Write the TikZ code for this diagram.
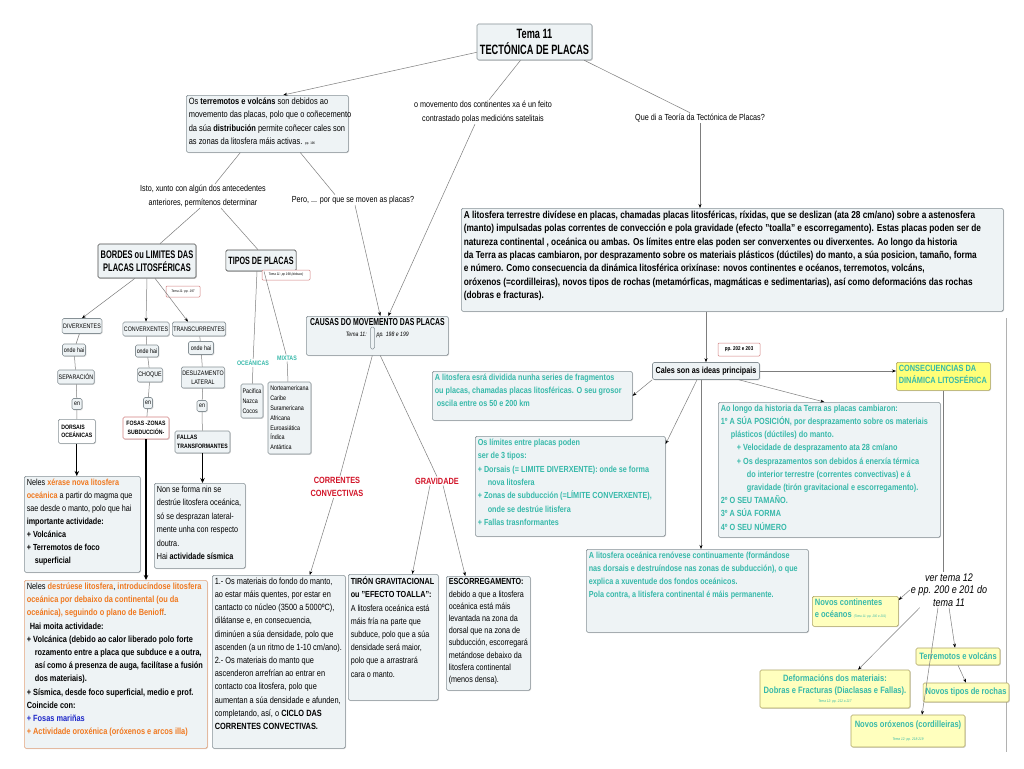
\documentclass[tikz,border=0pt]{standalone}
\usepackage{fontspec}
\setmainfont{Liberation Sans}[FakeStretch=0.82]
\newfontfamily\cnd{Liberation Sans}[FakeStretch=0.68]
\usetikzlibrary{arrows.meta,calc,shadows}
\definecolor{bxf}{RGB}{238,243,245}
\definecolor{bxd}{RGB}{135,145,150}
\definecolor{lg}{RGB}{125,125,125}
\definecolor{cy}{RGB}{55,185,170}
\definecolor{orn}{RGB}{240,120,30}
\definecolor{rd}{RGB}{210,20,40}
\definecolor{bl}{RGB}{30,40,200}
\definecolor{ybf}{RGB}{255,255,190}
\definecolor{ybf2}{RGB}{255,255,120}
\definecolor{ybd}{RGB}{175,165,100}
\definecolor{pk}{RGB}{210,130,130}
\definecolor{obd}{RGB}{230,165,125}
\newcommand{\fz}[2]{\fontsize{#1}{#2}\selectfont}
\newcommand{\nw}{\rightskip=0pt plus 1fil minus 300pt\relax}
\newcommand{\pb}[3]{\parbox[t][#2][t]{#1}{\nw #3}}
\tikzset{
  shd/.style={drop shadow={shadow xshift=0.8pt, shadow yshift=-0.8pt, opacity=0.3}},
  bx/.style={draw=bxd, fill=bxf, rounded corners=1.5pt, line width=0.6pt, inner sep=2.5pt, align=left, shd},
  pbx/.style={draw=bxd, fill=bxf, rounded corners=1.5pt, line width=0.6pt, inner sep=2.5pt, anchor=north west, shd},
  sb/.style={bx, inner sep=1pt, align=center, font=\fz{6.5}{8}},
  sbb/.style={bx, inner sep=1.5pt, font=\fz{6.3}{8.5}\bfseries},
  yb/.style={draw=ybd, fill=ybf, rounded corners=1.5pt, line width=0.6pt, inner sep=2.5pt, text=cy, font=\fz{9.2}{12}\bfseries, shd},
  rl/.style={draw=pk, fill=white, rounded corners=1pt, line width=0.5pt, inner sep=0.5pt, font=\fz{3.6}{4}\itshape},
  tx/.style={align=center, inner sep=1pt, font=\fz{8.8}{13.5}},
  ln/.style={draw=lg, line width=0.5pt},
  arr/.style={ln, -{Stealth[length=4pt,width=3pt,color=black]}},
  tk/.style={draw=black, line width=1.3pt, -{Stealth[length=5pt,width=4.5pt]}},
}
\begin{document}
\begin{tikzpicture}[x=1pt,y=-1pt]
\fill[white] (0,0) rectangle (1024,768);
\useasboundingbox (0,0) rectangle (1024,768);
\draw[lg!60, line width=0.5pt] (1006,318) -- (1006,752);

% ---------- top ----------
\node[bx, minimum width=115pt, minimum height=36pt, align=center, font=\cnd\fz{13.5}{16}\bfseries] (title) at (534.5,42) {Tema 11\\TECTÓNICA DE PLACAS};
\node[pbx, font=\fz{9.1}{13.5}] (boxA) at (186,95) {\pb{157pt}{52pt}{Os \textbf{terremotos e volcáns} son debidos ao\\movemento das placas, polo que o coñecemento\\da súa \textbf{distribución}  permite coñecer cales son\\as zonas da litosfera máis activas. {\fz{3.5}{4}pp. 196}}};
\node[tx] (moveTxt) at (483,112) {o movemento dos continentes xa é un feito\\contrastado polas medicións satelitais};
\node[tx] (queTxt) at (700,118) {Que di a Teoría da Tectónica de Placas?};
\node[tx] (istoTxt) at (203,196) {Isto, xunto con algún dos antecedentes\\anteriores, permítenos determinar};
\node[tx] (peroTxt) at (353,200) {Pero, ... por que se moven as placas?};

% ---------- left ----------
\node[bx, draw=black!70, minimum width=98pt, minimum height=34pt, align=center, font=\cnd\fz{11}{13}\bfseries] (bordes) at (147,261) {BORDES ou LIMITES DAS\\PLACAS LITOSFÉRICAS};
\node[bx, draw=black!70, minimum width=70pt, minimum height=21pt, align=center, font=\cnd\fz{10.6}{13}\bfseries] (tipos) at (261,260.5) {TIPOS DE PLACAS};
\node[rl, minimum width=48pt, minimum height=10pt] (r198) at (286,275) {Tema 11: pp 198 (debuxo)};
\node[rl, minimum width=34pt, minimum height=11pt] (r197) at (183,291.5) {Tema 11: pp. 197};

\node[sb, minimum width=39pt, minimum height=15pt] (diverx) at (82,326) {DIVERXENTES};
\node[sb, minimum width=23pt, minimum height=12pt] (ondehai1) at (74,350) {onde hai};
\node[sb, minimum width=35pt, minimum height=14pt] (separ) at (76,377) {SEPARACIÓN};
\node[sb, minimum width=10pt, minimum height=11pt] (en1) at (77,404) {en};
\node[sbb, fill=white, anchor=north west, minimum width=37pt, minimum height=24pt, align=left] (dorsais) at (58,419) {DORSAIS\\OCEÁNICAS};

\node[sb, minimum width=44pt, minimum height=14pt] (converx) at (146,329) {CONVERXENTES};
\node[sb, minimum width=23pt, minimum height=12pt] (ondehai2) at (147,351) {onde hai};
\node[sb, minimum width=25pt, minimum height=14pt] (choque) at (150,375) {CHOQUE};
\node[sb, minimum width=9pt, minimum height=11pt] (en2) at (148,403) {en};
\node[sbb, draw=pk, fill=white, minimum width=46pt, minimum height=22pt, align=center] (fosas) at (146,428) {FOSAS -ZONAS\\SUBDUCCIÓN-};

\node[sb, minimum width=49pt, minimum height=14pt] (transc) at (199,329) {TRANSCURRENTES};
\node[sb, minimum width=25pt, minimum height=13pt] (ondehai3) at (201,348) {onde hai};
\node[sb, minimum width=42pt, minimum height=21pt, font=\fz{6.5}{9}] (deslz) at (203,377.5) {DESLIZAMENTO\\LATERAL};
\node[sb, minimum width=10pt, minimum height=11pt] (en3) at (202,406) {en};
\node[sbb, minimum width=55pt, minimum height=22pt, align=left] (fallas) at (202.5,442) {FALLAS\\TRANSFORMANTES};

\node[font=\fz{6.5}{8}\bfseries, text=cy, inner sep=1pt] (oceLbl) at (253,363) {OCEÁNICAS};
\node[font=\fz{6.5}{8}\bfseries, text=cy, inner sep=1pt] (mixLbl) at (287,358) {MIXTAS};
\node[bx, inner sep=1.5pt, minimum width=22pt, minimum height=34pt, font=\fz{6.6}{9.8}] (pacif) at (252,401) {Pacifica\\Nazca\\Cocos};
\node[bx, inner sep=1.5pt, minimum width=43pt, minimum height=72pt, font=\fz{6.6}{9.8}] (norte) at (289.5,418) {Norteamericana\\Caribe\\Suramericana\\Africana\\Euroasiática\\Índica\\Antártica};

\node[pbx, font=\cnd\fz{10.1}{11}\bfseries] (causas) at (306,316) {\parbox[t][34pt][t]{137pt}{\centering CAUSAS DO MOVEMENTO DAS PLACAS\\{\rmfamily\fz{6.3}{8}\mdseries\itshape Tema 11:\hspace{10pt}pp. 198 e 199}}};
\draw[bxd, fill=bxf, rounded corners=1.5pt, line width=0.5pt] (370.5,327) rectangle (374.5,349);

\node[font=\fz{9}{13}\bfseries, text=rd, align=center, inner sep=1pt] (corrLbl) at (337,487) {CORRENTES\\CONVECTIVAS};
\node[font=\fz{9}{13}\bfseries, text=rd, inner sep=1pt] (gravLbl) at (437,481) {GRAVIDADE};

% ---------- left bottom ----------
\node[pbx, font=\fz{8.8}{13}] (xerase) at (24,476) {\pb{111pt}{91pt}{Neles \textcolor{orn}{\textbf{xérase nova litosfera}}\\\textcolor{orn}{\textbf{oceánica}} a partir do magma que\\sae desde o manto, polo que hai\\\textbf{importante actividade:}\\\textbf{+ Volcánica}\\\textbf{+ Terremotos de foco}\\\hspace*{8pt}\textbf{superficial}}};
\node[pbx, font=\fz{8.8}{13.5}] (nonse) at (154,483) {\pb{86pt}{80pt}{Non se forma nin se\\destrúe litosfera oceánica,\\só se desprazan lateral-\\mente  unha con respecto\\doutra.\\Hai \textbf{actividade sísmica}}};
\node[pbx, draw=obd, font=\fz{9}{13.2}] (destru) at (24,580) {\pb{178pt}{163pt}{Neles \textcolor{orn}{\textbf{destrúese litosfera}}, \textcolor{orn}{\textbf{introducíndose litosfera}}\\
\textcolor{orn}{\textbf{oceánica por debaixo da  continental (ou da}}\\
\textcolor{orn}{\textbf{oceánica), seguindo o plano de Benioff}}.\\
\hspace*{3pt}\textbf{Hai moita actividade:}\\
\textbf{+ Volcánica (debido ao calor liberado polo forte}\\
\hspace*{8pt}\textbf{rozamento entre a placa que subduce e a outra,}\\
\hspace*{8pt}\textbf{así como á presenza de auga, facilítase a fusión}\\
\hspace*{8pt}\textbf{dos materiais).}\\
\textbf{+ Sísmica, desde foco superficial, medio e prof.}\\
\textbf{Coincide  con:}\\
\textcolor{bl}{\textbf{+ Fosas mariñas}}\\
\textcolor{orn}{\textbf{+ Actividade oroxénica (oróxenos e arcos illa)}}}};
\node[pbx, font=\fz{9}{13.2}] (mater) at (212,575) {\pb{128pt}{168pt}{1.- Os materiais do fondo do manto,\\ao estar máis quentes, por estar en\\cantacto co núcleo (3500 a 5000ºC),\\dilátanse e, en consecuencia,\\diminúen a súa densidade, polo que\\ascenden (a un ritmo de 1-10 cm/ano).\\2.- Os materiais do manto que\\ascenderon arrefrían ao entrar en\\contacto coa litosfera, polo que\\aumentan a súa densidade e afunden,\\completando, así, o \textbf{CICLO DAS}\\\textbf{CORRENTES CONVECTIVAS.}}};
\node[pbx, font=\fz{8.8}{13.2}] (tiron) at (348,574) {\pb{85pt}{121pt}{\textbf{TIRÓN GRAVITACIONAL}\\\textbf{ou "EFECTO TOALLA":}\\A litosfera oceánica está\\máis fría na parte que\\subduce, polo que a súa\\densidade será maior,\\polo que a arrastrará\\cara o manto.}};
\node[pbx, font=\fz{8.8}{12.2}] (escor) at (446,576) {\pb{79pt}{109pt}{\textbf{ESCORREGAMENTO:}\\debido a que a litosfera\\oceánica  está máis\\levantada na zona da\\dorsal que na zona de\\subducción, escorregará\\metándose  debaixo da\\litosfera continental\\(menos densa).}};

% ---------- right ----------
\node[pbx, font=\fz{10.1}{13.4}\bfseries] (bigbox) at (461,208) {\pb{537pt}{98pt}{A litosfera terrestre divídese en placas, chamadas placas litosféricas, ríxidas, que se deslizan (ata 28 cm/ano) sobre a astenosfera\\(manto) impulsadas polas correntes de convección e pola gravidade (efecto "toalla" e escorregamento). Estas placas poden ser de\\natureza continental , oceánica ou ambas. Os límites entre elas poden ser converxentes ou diverxentes. Ao longo da historia\\da Terra as placas cambiaron, por desprazamento sobre os materiais plásticos (dúctiles)  do manto, a súa posicion, tamaño, forma\\e número. Como consecuencia da dinámica litosférica orixínase: novos continentes e océanos, terremotos, volcáns,\\oróxenos (=cordilleiras), novos tipos de rochas (metamórficas, magmáticas  e sedimentarias), así como deformacións das rochas\\(dobras e fracturas).}};

\node[bx, minimum width=107pt, minimum height=17pt, align=center, font=\fz{8.8}{11}\bfseries] (cales) at (706,371) {Cales son as ideas principais};
\node[rl, minimum width=42pt, minimum height=13pt, font=\fz{5.5}{6}\bfseries] (pp202) at (739,349.5) {pp. 202 e 203};

\node[pbx, text=cy, font=\fz{8.8}{13}\bfseries] (cyan1) at (432,371) {\pb{195pt}{44pt}{A litosfera esrá dividida nunha series de fragmentos\\ou placas, chamadas placas litosféricas. O seu grosor\\\hspace*{2pt}oscila entre os 50 e 200 km}};
\node[pbx, text=cy, font=\fz{8.8}{13.4}\bfseries] (limites) at (475,436) {\pb{185pt}{95pt}{Os límites entre placas poden\\ser de 3 tipos:\\+ Dorsais (= LIMITE DIVERXENTE): onde se forma\\\hspace*{10pt}nova litosfera\\+ Zonas de subducción (=LÍMITE CONVERXENTE),\\\hspace*{10pt}onde se destrúe litisfera\\+ Fallas trasnformantes}};
\node[pbx, text=cy, font=\fz{8.9}{13.2}\bfseries] (aolongo) at (718,402) {\pb{217pt}{130pt}{Ao longo da historia da Terra as placas cambiaron:\\1º A SÚA POSICIÓN, por desprazamento sobre os materiais\\\hspace*{10pt}plásticos (dúctiles)  do manto.\\\hspace*{16pt}+ Velocidade de desprazamento ata 28 cm/ano\\\hspace*{16pt}+ Os desprazamentos son debidos á enerxía térmica\\\hspace*{26pt}do interior terrestre (correntes convectivas) e á\\\hspace*{26pt}gravidade (tirón gravitacional e escorregamento).\\2º O SEU TAMAÑO.\\3º A SÚA FORMA\\4º O SEU NÚMERO}};
\node[pbx, draw=ybd, fill=ybf2, text=cy, font=\fz{9}{12}\bfseries] (consec) at (896,362) {\pb{89pt}{23pt}{CONSECUENCIAS DA\\DINÁMICA LITOSFÉRICA}};
\node[pbx, text=cy, font=\fz{8.8}{13.2}\bfseries] (oceanica) at (586,549) {\pb{217pt}{78pt}{A litosfera oceánica renóvese continuamente (formándose\\nas dorsais e destruíndose nas zonas de subducción), o que\\explica a xuventude dos fondos oceánicos.\\Pola contra, a litisfera continental é máis permanente.}};

\node[tx, font=\fz{11}{12.5}\itshape] (verTxt) at (949,590) {ver tema  12\\e pp. 200 e 201 do\\tema 11};
\node[pbx, draw=ybd, fill=ybf, text=cy, font=\fz{9.2}{12}\bfseries] (novcont) at (812,596) {\pb{81pt}{25pt}{Novos continentes\\e océanos {\fz{3.5}{4}\mdseries\itshape (Tema 11: pp. 200 e 201)}}};
\node[yb, minimum width=84pt, minimum height=17pt] (terrem) at (958,656.5) {Terremotos e volcáns};
\node[yb, minimum width=150pt, minimum height=38pt, align=center] (deform) at (835,689) {Deformacións dos materiais:\\Dobras e Fracturas (Diaclasas e Fallas).\\[-3pt]{\fz{3.8}{5}\mdseries\itshape Tema 12: pp. 212 a 217}};
\node[yb, minimum width=84pt, minimum height=19pt] (novtipos) at (966,692.5) {Novos tipos de rochas};
\node[yb, minimum width=114pt, minimum height=32pt, align=center] (novoro) at (908,731) {Novos oróxenos (cordilleiras)\\[1pt]{\fz{3.8}{5}\mdseries\itshape Tema 12: pp. 218-219}};

% ---------- connectors ----------
\draw[arr] ([yshift=8pt]title.south west) -- ([xshift=16pt]boxA.north);
\draw[ln] ([xshift=-14pt]title.south) -- ([xshift=6pt]moveTxt.north);
\draw[arr] ([xshift=-8pt]moveTxt.south) -- ([xshift=11pt]causas.north);
\draw[ln] ([xshift=-8pt]title.south east) -- ([xshift=-10pt]queTxt.north);
\draw[arr] (queTxt.south) -- (queTxt.south |- bigbox.north);
\draw[ln] ([xshift=-27pt]boxA.south) -- ([xshift=12pt]istoTxt.north);
\draw[ln] ([xshift=33pt]boxA.south) -- ([xshift=-18pt]peroTxt.north);
\draw[ln] ([xshift=-3pt]istoTxt.south) -- ([xshift=13pt]bordes.north);
\draw[ln] ([xshift=18pt]istoTxt.south) -- ([xshift=-3pt]tipos.north);
\draw[arr] ([xshift=2pt]peroTxt.south) -- ([xshift=3pt]causas.north);

\draw[arr] ([xshift=-12pt]bordes.south) -- (diverx.north);
\draw[arr] (bordes.south) -- (converx.north);
\draw[arr] ([xshift=8pt]bordes.south) -- ([xshift=-11pt]transc.north);
\draw[ln] (diverx) -- (ondehai1) -- (separ) -- (en1) -- (dorsais);
\draw[ln] (converx) -- (ondehai2) -- (choque) -- (en2) -- (fosas);
\draw[ln] (transc) -- (ondehai3) -- (deslz) -- (en3) -- (fallas);
\draw[tk] (dorsais.south) -- (dorsais.south |- xerase.north);
\draw[tk] (fosas.south) -- (fosas.south |- destru.north);
\draw[tk] (fallas.south) -- (fallas.south |- nonse.north);
\draw[ln] ([xshift=-4pt]tipos.south) -- (oceLbl) -- (pacif);
\draw[ln] ([xshift=3pt]tipos.south) -- (mixLbl) -- (norte);

\draw[ln] ([xshift=-5pt]causas.south) -- (corrLbl);
\draw[arr] (corrLbl) -- ([xshift=31pt]mater.north);
\draw[ln] ([xshift=3pt]causas.south) -- (gravLbl.north);
\draw[arr] ([xshift=-7pt]gravLbl.south) -- ([xshift=19pt]tiron.north);
\draw[arr] ([xshift=6pt]gravLbl.south) -- ([xshift=-23pt]escor.north);

\draw[arr] (cales.north |- bigbox.south) -- (cales.north);
\draw[arr] (cales.south west) -- (cyan1.east);
\draw[arr] ([xshift=-9pt]cales.south) -- ([yshift=-8pt]limites.north east);
\draw[arr] ([xshift=-5pt]cales.south) -- ([xshift=-5pt]cales.south |- oceanica.north);
\draw[arr] ([xshift=33pt]cales.south) -- ([xshift=-5pt]aolongo.north);
\draw[arr] (cales.east) -- (cales.east -| consec.west);
\draw[ln] (consec.south) -- (consec.south |- verTxt.north);
\draw[arr] (verTxt.west) -- ([yshift=-4pt]novcont.north east);
\draw[arr] ([xshift=10pt]verTxt.south west) -- ([xshift=23pt]deform.north);
\draw[arr] ([xshift=-11pt]verTxt.south) -- ([xshift=14pt]novoro.north);
\draw[arr] (verTxt.south) -- ([xshift=-3pt]terrem.north);
\draw[arr] (terrem.south) -- (novtipos.north);
\end{tikzpicture}
\end{document}
